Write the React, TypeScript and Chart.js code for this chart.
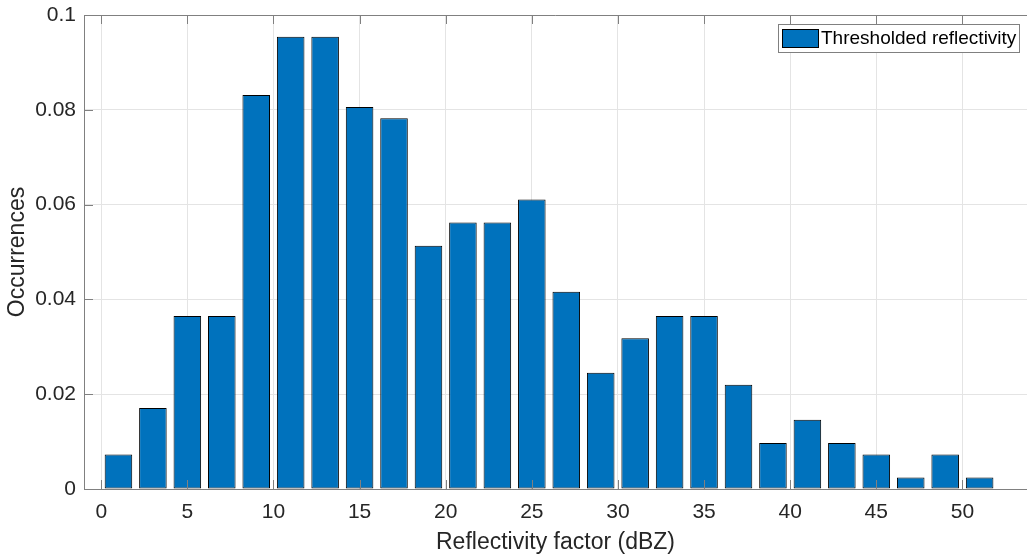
import React, { useEffect, useRef } from "react";
import { Chart, registerables } from "chart.js";

Chart.register(...registerables);

const binCenters = [1, 3, 5, 7, 9, 11, 13, 15, 17, 19, 21, 23, 25, 27, 29, 31, 33, 35, 37, 39, 41, 43, 45, 47, 49, 51];
const occurrences = [
  0.0073, 0.0171, 0.0365, 0.0365, 0.0831, 0.0954, 0.0954, 0.0806, 0.0782, 0.0513,
  0.0562, 0.0562, 0.0611, 0.0416, 0.0245, 0.0318, 0.0365, 0.0365, 0.0220, 0.0097,
  0.0146, 0.0097, 0.0073, 0.0024, 0.0073, 0.0024,
];
const xTicks = [0, 5, 10, 15, 20, 25, 30, 35, 40, 45, 50];
const yTicks = [0, 0.02, 0.04, 0.06, 0.08, 0.1];
const yTickLabels = ["0", "0.02", "0.04", "0.06", "0.08", "0.1"];
const seriesLabel = "Thresholded reflectivity";
const xTitle = "Reflectivity factor (dBZ)";
const yTitle = "Occurrences";

const FONT = "'Liberation Sans', Arial, Helvetica, sans-serif";
const BAR = "#0072BD";
const AXIS = "#808080";
const TEXT = "#262626";

const matlabPlugin = {
  id: "matlabDecor",
  afterDatasetsDraw(chart: any) {
    const { ctx, chartArea } = chart;
    const xs = chart.scales.x;
    const ys = chart.scales.y;
    const L = 9;
    ctx.save();
    ctx.strokeStyle = AXIS;
    ctx.lineWidth = 1;
    ctx.beginPath();
    ctx.moveTo(chartArea.left, Math.round(chartArea.top) + 0.5);
    ctx.lineTo(chartArea.right, Math.round(chartArea.top) + 0.5);
    for (const t of xTicks) {
      const px = Math.round(xs.getPixelForValue(t)) + 0.5;
      ctx.moveTo(px, chartArea.bottom);
      ctx.lineTo(px, chartArea.bottom - L);
      ctx.moveTo(px, chartArea.top);
      ctx.lineTo(px, chartArea.top + L);
    }
    for (const t of yTicks) {
      const py = Math.round(ys.getPixelForValue(t)) + 0.5;
      ctx.moveTo(chartArea.left, py);
      ctx.lineTo(chartArea.left + L, py);
    }
    ctx.stroke();
    ctx.restore();
  },
  afterDraw(chart: any) {
    const { ctx } = chart;
    const ds = chart.data.datasets[0];
    const bx = 778.5, by = 24.5, bw = 241, bh = 28;
    ctx.save();
    ctx.fillStyle = "#ffffff";
    ctx.fillRect(bx, by, bw, bh);
    ctx.strokeStyle = AXIS;
    ctx.lineWidth = 1;
    ctx.strokeRect(bx, by, bw, bh);
    ctx.fillStyle = ds.backgroundColor;
    ctx.fillRect(782.5, 29.5, 36, 18);
    ctx.strokeStyle = "#000000";
    ctx.strokeRect(782.5, 29.5, 36, 18);
    ctx.fillStyle = "#000000";
    ctx.font = `19px ${FONT}`;
    ctx.textBaseline = "middle";
    ctx.textAlign = "left";
    ctx.fillText(ds.label, 821, 39);
    ctx.restore();
  },
};

export default function App() {
  const canvasRef = useRef<HTMLCanvasElement | null>(null);

  useEffect(() => {
    if (!canvasRef.current) return;
    const chart = new Chart(canvasRef.current, {
      type: "bar",
      data: {
        datasets: [
          {
            label: seriesLabel,
            data: binCenters.map((x, i) => ({ x, y: occurrences[i] })),
            backgroundColor: BAR,
            borderColor: "#000000",
            borderWidth: 1,
            borderSkipped: false,
            barPercentage: 0.8,
            categoryPercentage: 1.0,
          },
        ],
      },
      options: {
        responsive: false,
        animation: false,
        layout: { padding: { top: 15, left: 0, right: 0, bottom: 0 } },
        plugins: {
          legend: { display: false },
          tooltip: { enabled: false },
        },
        scales: {
          x: {
            type: "linear",
            offset: false,
            min: -1,
            max: 53.75,
            afterBuildTicks: (s: any) => {
              s.ticks = xTicks.map((v) => ({ value: v }));
            },
            afterFit: (s: any) => {
              s.height = 69;
              s.paddingLeft = 0;
              s.paddingRight = 0;
            },
            ticks: {
              color: TEXT,
              font: { family: FONT, size: 21 },
              padding: 11,
              maxRotation: 0,
              autoSkip: false,
              callback: (v: any) => String(v),
            },
            grid: { color: "#e4e4e4", drawTicks: false, lineWidth: 1, offset: false },
            border: { color: AXIS, width: 1 },
            title: {
              display: true,
              text: xTitle,
              color: TEXT,
              font: { family: FONT, size: 23 },
              padding: { top: 0, bottom: 2 },
            },
          },
          y: {
            type: "linear",
            min: 0,
            max: 0.1,
            afterBuildTicks: (s: any) => {
              s.ticks = yTicks.map((v) => ({ value: v }));
            },
            afterFit: (s: any) => {
              s.width = 84;
              s.paddingTop = 0;
              s.paddingBottom = 0;
            },
            ticks: {
              color: TEXT,
              font: { family: FONT, size: 21 },
              padding: 8,
              autoSkip: false,
              callback: (_v: any, i: number) => yTickLabels[i],
            },
            grid: { color: "#e4e4e4", drawTicks: false, lineWidth: 1 },
            border: { color: AXIS, width: 1 },
            title: {
              display: true,
              text: yTitle,
              color: TEXT,
              font: { family: FONT, size: 23 },
              padding: { top: 4, bottom: 0 },
            },
          },
        },
      },
      plugins: [matlabPlugin],
    });
    return () => chart.destroy();
  }, []);

  return (
    <div style={{ position: "fixed", left: 0, top: 0, width: 1027, height: 558, background: "#ffffff" }}>
      <canvas ref={canvasRef} width={1027} height={558} />
    </div>
  );
}
